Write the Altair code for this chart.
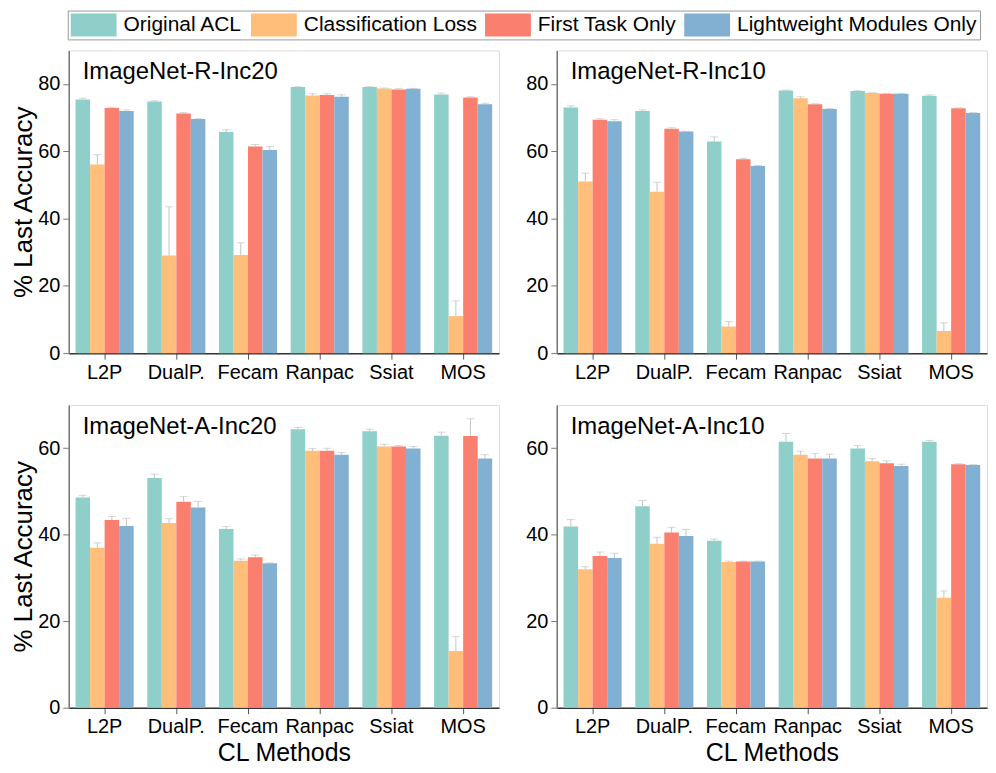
import altair as alt
import pandas as pd

methods = ["L2P", "DualP.", "Fecam", "Ranpac", "Ssiat", "MOS"]
series = ["Original ACL", "Classification Loss", "First Task Only", "Lightweight Modules Only"]
colors = ["#8ECFC9", "#FFBE7A", "#FA7F6F", "#82B0D2"]

# ImageNet-R-Inc20
r20_orig = [75.4, 74.8, 65.7, 79.1, 79.1, 76.9]
r20_cls = [56.1, 29.0, 29.2, 76.6, 78.7, 11.0]
r20_first = [72.9, 71.2, 61.4, 76.7, 78.4, 76.0]
r20_light = [72.0, 69.6, 60.4, 76.2, 78.6, 74.0]
r20_orig_err = [0.4, 0.2, 0.7, 0.1, 0.1, 0.4]
r20_cls_err = [2.9, 14.5, 3.6, 0.5, 0.1, 4.5]
r20_first_err = [0.2, 0.3, 0.6, 0.4, 0.2, 0.2]
r20_light_err = [0.3, 0.1, 1.0, 0.6, 0.1, 0.3]

# ImageNet-R-Inc10
r10_orig = [73.0, 72.0, 62.9, 78.1, 77.9, 76.5]
r10_cls = [51.0, 48.0, 7.9, 75.8, 77.3, 6.6]
r10_first = [69.4, 66.7, 57.6, 74.0, 77.1, 72.8]
r10_light = [68.9, 65.9, 55.6, 72.6, 77.1, 71.4]
r10_orig_err = [0.5, 0.3, 1.4, 0.1, 0.1, 0.3]
r10_cls_err = [2.5, 2.8, 1.5, 0.4, 0.1, 2.4]
r10_first_err = [0.3, 0.3, 0.3, 0.1, 0.1, 0.1]
r10_light_err = [0.5, 0.1, 0.2, 0.1, 0.1, 0.1]

# ImageNet-A-Inc20
a20_orig = [48.6, 53.1, 41.3, 64.4, 63.9, 62.9]
a20_cls = [37.0, 42.7, 34.0, 59.4, 60.4, 13.1]
a20_first = [43.4, 47.6, 34.8, 59.4, 60.4, 62.8]
a20_light = [42.0, 46.3, 33.4, 58.5, 59.9, 57.6]
a20_orig_err = [0.5, 0.9, 0.6, 0.4, 0.5, 0.8]
a20_cls_err = [1.1, 1.0, 0.4, 0.5, 0.5, 3.4]
a20_first_err = [0.8, 1.2, 0.5, 0.6, 0.2, 4.0]
a20_light_err = [1.8, 1.4, 0.1, 0.5, 0.5, 0.9]

# ImageNet-A-Inc10
a10_orig = [41.9, 46.6, 38.6, 61.5, 59.9, 61.5]
a10_cls = [32.0, 37.9, 33.7, 58.5, 57.0, 25.4]
a10_first = [35.1, 40.5, 33.8, 57.6, 56.5, 56.3]
a10_light = [34.6, 39.7, 33.8, 57.6, 55.9, 56.1]
a10_orig_err = [1.6, 1.3, 0.4, 1.9, 0.7, 0.3]
a10_cls_err = [0.6, 1.5, 0.2, 0.8, 0.6, 1.6]
a10_first_err = [0.9, 1.2, 0.1, 1.2, 0.6, 0.1]
a10_light_err = [1.1, 1.5, 0.1, 1.0, 0.4, 0.1]

top_ticks = [0, 20, 40, 60, 80]
bottom_ticks = [0, 20, 40, 60]

W, H = 432, 304


def make_df(vals, errs):
    rows = []
    for s, v, e in zip(series, vals, errs):
        for m, a, b in zip(methods, v, e):
            rows.append(dict(method=m, series=s, value=a, upper=a + b))
    return pd.DataFrame(rows)


def panel(title, vals, errs, ymax, yticks, left, bottom):
    df = make_df(vals, errs)
    base = alt.Chart(df)
    x = alt.X(
        "method:N",
        sort=methods,
        scale=alt.Scale(paddingInner=0, paddingOuter=0),
        axis=alt.Axis(
            title="CL Methods" if bottom else None,
            labelAngle=0,
            labelFontSize=20,
            titleFontSize=25,
            titleFontWeight="normal",
            titlePadding=4,
            tickSize=6,
            labelPadding=3,
            domainColor="#333",
            domainWidth=1.5,
            tickColor="#555",
            labelColor="black",
            titleColor="black",
        ),
    )
    xo = alt.XOffset(
        "series:N",
        sort=series,
        scale=alt.Scale(paddingInner=0, paddingOuter=0.468),
    )
    y = alt.Y(
        "value:Q",
        scale=alt.Scale(domain=[0, ymax], nice=False, zero=True),
        axis=alt.Axis(
            title="% Last Accuracy" if left else None,
            values=yticks,
            grid=False,
            labelFontSize=20,
            titleFontSize=26,
            titleFontWeight="normal",
            titlePadding=1,
            tickSize=6,
            labelPadding=3,
            domainColor="#777",
            domainWidth=1.5,
            tickColor="#777",
            labelColor="black",
            titleColor="black",
        ),
    )
    bars = base.mark_bar().encode(
        x=x,
        xOffset=xo,
        y=y,
        color=alt.Color(
            "series:N",
            sort=series,
            scale=alt.Scale(domain=series, range=colors),
            legend=alt.Legend(
                title=None,
                orient="none",
                legendX=-1,
                legendY=-40,
                direction="horizontal",
                symbolType="M-1,-1H3V1H-1Z",
                symbolSize=529,
                symbolStrokeWidth=0,
                symbolOpacity=1,
                labelFontSize=21,
                labelColor="black",
                labelOffset=30,
                columnPadding=8,
                padding=3,
                strokeColor="#999",
                labelLimit=400,
            ),
        ),
    )
    rules = base.mark_rule(color="#c4c4c4", strokeWidth=1).encode(
        x=alt.X("method:N", sort=methods),
        xOffset=alt.XOffset("series:N", sort=series),
        y="value:Q",
        y2="upper:Q",
    )
    caps = base.mark_tick(color="#c4c4c4", thickness=1, size=8, orient="horizontal").encode(
        x=alt.X("method:N", sort=methods),
        xOffset=alt.XOffset("series:N", sort=series),
        y="upper:Q",
    )
    label = alt.Chart(pd.DataFrame({"t": [title]})).mark_text(
        align="left", baseline="alphabetic", fontSize=24, color="black"
    ).encode(text="t:N", x=alt.value(14), y=alt.value(29))
    return alt.layer(bars, rules, caps, label).properties(width=W, height=H)


p1 = panel("ImageNet-R-Inc20", [r20_orig, r20_cls, r20_first, r20_light],
           [r20_orig_err, r20_cls_err, r20_first_err, r20_light_err], 90, top_ticks, True, False)
p2 = panel("ImageNet-R-Inc10", [r10_orig, r10_cls, r10_first, r10_light],
           [r10_orig_err, r10_cls_err, r10_first_err, r10_light_err], 90, top_ticks, False, False)
p3 = panel("ImageNet-A-Inc20", [a20_orig, a20_cls, a20_first, a20_light],
           [a20_orig_err, a20_cls_err, a20_first_err, a20_light_err], 70, bottom_ticks, True, True)
p4 = panel("ImageNet-A-Inc10", [a10_orig, a10_cls, a10_first, a10_light],
           [a10_orig_err, a10_cls_err, a10_first_err, a10_light_err], 70, bottom_ticks, False, True)

chart = alt.vconcat(
    alt.hconcat(p1, p2, spacing=25),
    alt.hconcat(p3, p4, spacing=25),
    spacing=21,
).configure_view(stroke="#777", strokeWidth=1.5).configure(
    font="Liberation Sans", padding={"left": 2, "top": 0, "right": 0, "bottom": 0}
)

chart.save("out.html", embed_options={"renderer": "svg", "actions": False})
